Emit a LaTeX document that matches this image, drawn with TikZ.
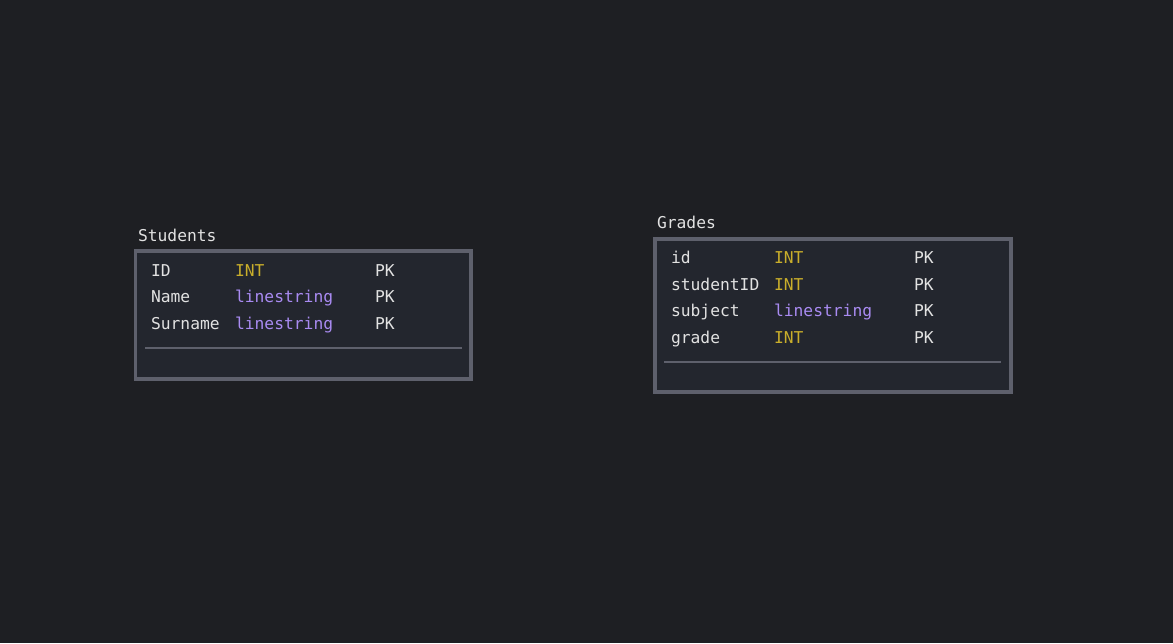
\documentclass[tikz,border=0pt]{standalone}
\usepackage{fontspec}
\setmonofont{DejaVu Sans Mono}
\definecolor{bg}{HTML}{1E1F23}
\definecolor{boxfill}{HTML}{23262E}
\definecolor{boxline}{HTML}{5E606C}
\definecolor{txt}{HTML}{E2E2E2}
\definecolor{inttype}{HTML}{C9AE2B}
\definecolor{strtype}{HTML}{A98BF2}
\tikzset{
  x=1pt,y=-1pt,
  tbl/.style={draw=boxline,fill=boxfill,line width=3.5pt},
  sep/.style={draw=boxline,line width=2pt},
  cell/.style={anchor=base west,inner sep=0pt,outer sep=0pt,font=\ttfamily\fontsize{16.3}{19}\selectfont,text=txt},
  ttl/.style={cell},
  typei/.style={cell,text=inttype},
  types/.style={cell,text=strtype}
}
\begin{document}
\begin{tikzpicture}
\fill[bg] (0,0) rectangle (1173,643);
\useasboundingbox (0,0) rectangle (1173,643);
% Students
\node[ttl] (stitle) at (138,241) {Students};
\draw[tbl] (135.5,251) rectangle (471,379);
\node[cell] (s1n) at (151,276) {ID};
\node[typei] (s1t) at (235,276) {INT};
\node[cell] (s1k) at (375,276) {PK};
\node[cell] (s2n) at (151,302) {Name};
\node[types] (s2t) at (235,302) {linestring};
\node[cell] (s2k) at (375,302) {PK};
\node[cell] (s3n) at (151,329) {Surname};
\node[types] (s3t) at (235,329) {linestring};
\node[cell] (s3k) at (375,329) {PK};
\coordinate (ssepA) at (145,347.7);
\coordinate (ssepB) at (462,347.7);
\draw[sep] (ssepA) -- (ssepB);
% Grades
\node[ttl] (gtitle) at (657,228) {Grades};
\draw[tbl] (655,239) rectangle (1011,392);
\node[cell] (g1n) at (671,263) {id};
\node[typei] (g1t) at (774,263) {INT};
\node[cell] (g1k) at (914,263) {PK};
\node[cell] (g2n) at (671,290) {studentID};
\node[typei] (g2t) at (774,290) {INT};
\node[cell] (g2k) at (914,290) {PK};
\node[cell] (g3n) at (671,316) {subject};
\node[types] (g3t) at (774,316) {linestring};
\node[cell] (g3k) at (914,316) {PK};
\node[cell] (g4n) at (671,343) {grade};
\node[typei] (g4t) at (774,343) {INT};
\node[cell] (g4k) at (914,343) {PK};
\coordinate (gsepA) at (664,361.7);
\coordinate (gsepB) at (1001,361.7);
\draw[sep] (gsepA) -- (gsepB);
\end{tikzpicture}
\end{document}
